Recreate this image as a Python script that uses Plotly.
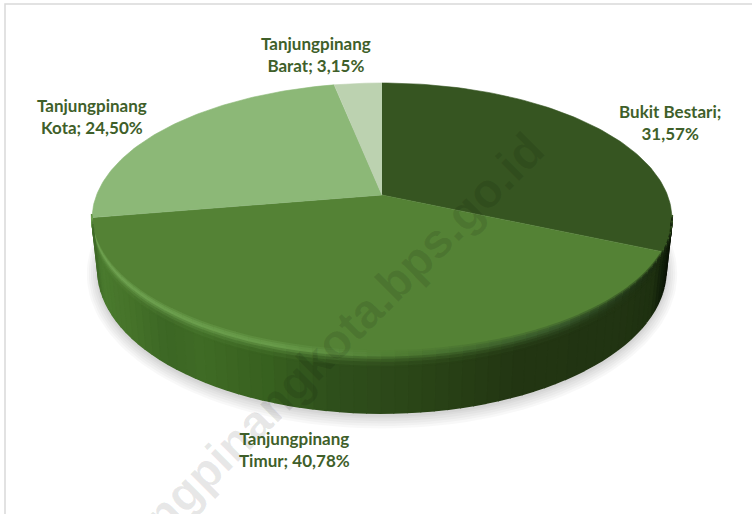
import numpy as np
import plotly.graph_objects as go

# ---- data ----
districts = ["Bukit Bestari", "Tanjungpinang Timur", "Tanjungpinang Kota", "Tanjungpinang Barat"]
shares = [31.57, 40.78, 24.50, 3.15]
label_lines = [("Bukit Bestari;", "31,57%"), ("Tanjungpinang", "Timur; 40,78%"),
               ("Tanjungpinang", "Kota; 24,50%"), ("Tanjungpinang", "Barat; 3,15%")]
top_colors = ["#365521", "#548235", "#8CB877", "#BCD2B0"]
label_xy = [(670, 122), (294, 449), (92, 116), (316, 54)]
watermark = "tanjungpinangkota.bps.go.id"

# ---- projection of the pie disc ----
K = 0.1765
CX = 382
TOP = dict(y0=195.0, a=285.4, b=131.8)
BOT = dict(y0=244.8, a=279.6, b=138.6)


def project(theta_deg, p):
    th = np.radians(theta_deg)
    u, v = np.sin(th), -np.cos(th)
    w = 1 - K * v
    return CX + p["a"] * u / w, p["y0"] + p["b"] * v / w


def hex2rgb(h):
    h = h.lstrip("#")
    return np.array([int(h[i:i + 2], 16) for i in (0, 2, 4)], float)


def col(c):
    return "rgb(%d,%d,%d)" % tuple(np.clip(np.round(c), 0, 255))


wall_x = [92, 100, 130, 165, 200, 270, 330, 376, 450, 520, 620, 655, 664, 672]
wall_c = ["#3f6a27", "#4a7a2e", "#457229", "#3c6624", "#3f6b25", "#37601f", "#2e4f1b", "#2d4a1a",
          "#274015", "#223512", "#213412", "#1e3010", "#12200a", "#0a1206"]
rim_x = [92, 280, 400, 560, 672]
rim_c = ["#6fa251", "#679a49", "#4f7c33", "#36562a", "#16240d"]


def interp(x, xs, cs):
    arr = np.array([hex2rgb(c) for c in cs])
    return np.array([np.interp(x, xs, arr[:, i]) for i in range(3)])


fig = go.Figure()


def poly(xs, ys, fill, line=True, width=0.6):
    fig.add_trace(go.Scatter(x=list(xs), y=list(ys), mode="lines", fill="toself", fillcolor=fill,
                             line=dict(color=fill if line else "rgba(0,0,0,0)", width=width if line else 0),
                             hoverinfo="skip", showlegend=False))


# soft shadow below the disc
full = np.linspace(0, 360, 181)
for grow in [11, 9, 7, 5, 3, 1.5]:
    sx, sy = project(full, dict(y0=BOT["y0"] + 2, a=BOT["a"] + grow, b=BOT["b"] + grow))
    poly(sx, sy, "rgba(0,0,0,0.028)", line=False)

# top faces, driven by the shares
edges = np.concatenate([[0], np.cumsum(shares)]) / sum(shares) * 360
ax, ay = project(np.array(0.0), dict(TOP, a=0, b=0))
for i, s in enumerate(shares):
    th = np.linspace(edges[i], edges[i + 1], 90)
    px, py = project(th, TOP)
    poly(np.r_[CX, px], np.r_[ay, py], top_colors[i])

# side wall, visible from the right silhouette to the left one
rows = [(-0.07, -0.035, 0.45), (-0.035, 0.0, 0.85), (0.0, 0.04, 1.0), (0.04, 0.08, 0.65),
        (0.08, 0.13, 0.35), (0.13, 0.2, 0.12), (0.2, 1.0, 0.0)]
th_edges = np.linspace(100, edges[2], 71)
surf = hex2rgb(top_colors[1])
for j in range(len(th_edges) - 1):
    seg = np.linspace(th_edges[j], th_edges[j + 1], 3)
    tx, ty = project(seg, TOP)
    bx, by = project(seg, BOT)
    xm = tx.mean()
    wc = interp(xm, wall_x, wall_c)
    hc = interp(xm, rim_x, rim_c)
    for t0, t1, wgt in rows:
        x0, y0 = tx + (bx - tx) * t0, ty + (by - ty) * t0
        x1, y1 = tx + (bx - tx) * t1, ty + (by - ty) * t1
        base = surf if t1 <= 0 else wc
        c = base + (hc - base) * wgt
        poly(np.r_[x0, x1[::-1]], np.r_[y0, y1[::-1]], col(c), width=1.6)

annotations = []
# watermark
annotations.append(dict(x=303, y=373, xref="x", yref="y", text="<b>" + watermark + "</b>", showarrow=False,
                        textangle=-45, font=dict(family="Liberation Sans", size=48, color="rgba(0,0,0,0.09)")))
for (l1, l2), (lx, ly) in zip(label_lines, label_xy):
    annotations.append(dict(x=lx, y=ly, xref="x", yref="y", text=f"<b>{l1}<br>{l2}</b>", showarrow=False,
                            align="center", font=dict(family="Lato", size=17, color="#3F5F2A")))

fig.update_layout(
    width=752, height=514, margin=dict(l=0, r=0, t=0, b=0), paper_bgcolor="white", plot_bgcolor="white",
    xaxis=dict(range=[0, 752], visible=False, fixedrange=True),
    yaxis=dict(range=[514, 0], visible=False, fixedrange=True),
    annotations=annotations,
    shapes=[dict(type="rect", xref="x", yref="y", x0=5, y0=4, x1=800, y1=560,
                 line=dict(color="#D9D9D9", width=1.5), layer="below")],
)
fig.write_html("out.html", config=dict(displayModeBar=False),
               post_script="document.body.style.margin='0';document.body.style.overflow='hidden';")
